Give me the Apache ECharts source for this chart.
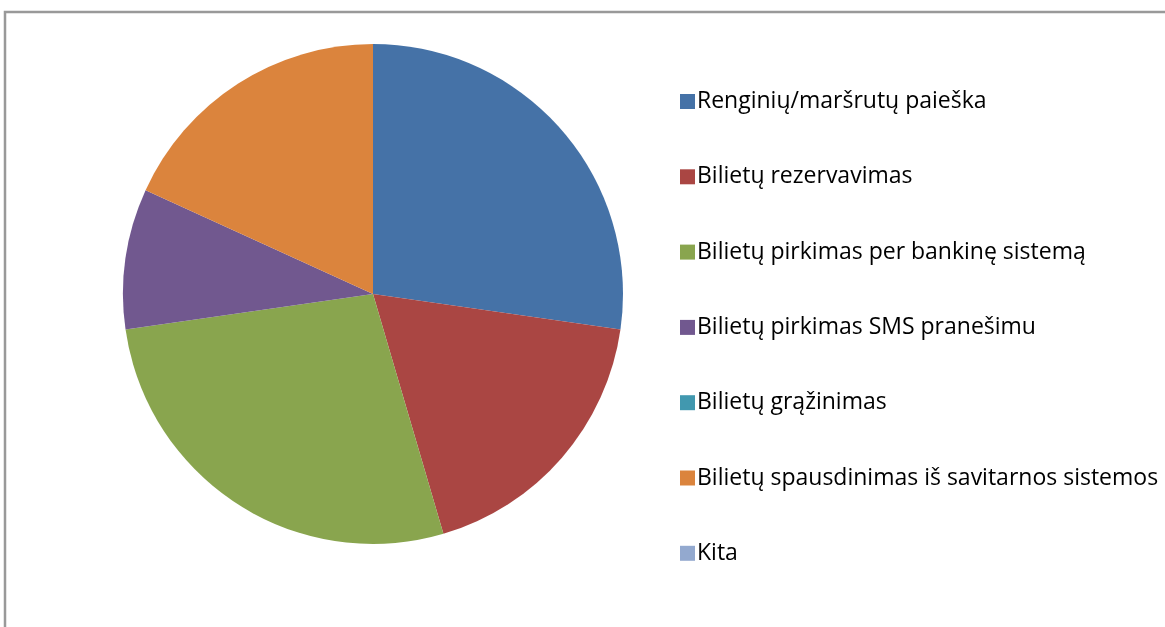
<!DOCTYPE html>
<html>
<head>
<meta charset="utf-8">
<script src="https://cdn.jsdelivr.net/npm/echarts@6/dist/echarts.min.js"></script>
<style>
html,body{margin:0;padding:0;background:#fff;}
#c{width:1165px;height:627px;}
</style>
</head>
<body>
<div id="c"></div>
<script>
const categories = [
  "Renginių/maršrutų paieška",
  "Bilietų rezervavimas",
  "Bilietų pirkimas per bankinę sistemą",
  "Bilietų pirkimas SMS pranešimu",
  "Bilietų grąžinimas",
  "Bilietų spausdinimas iš savitarnos sistemos",
  "Kita"
];
const values = [3, 2, 3, 1, 0, 2, 0];
const colors = ["#4572A7", "#AA4643", "#89A54E", "#71588F", "#4198AF", "#DB843D", "#93A9CF"];

const chart = echarts.init(document.getElementById('c'), null, {renderer: 'canvas'});
chart.setOption({
  backgroundColor: '#fff',
  animation: false,
  color: colors,
  graphic: [{
    type: 'polyline',
    shape: {points: [[5, 640], [5, 12], [1180, 12]]},
    style: {stroke: '#999', lineWidth: 2.5, fill: null},
    silent: true
  }],
  legend: {
    orient: 'vertical',
    left: 675,
    top: 85,
    itemWidth: 15,
    itemHeight: 15,
    itemGap: 52.3,
    itemStyle: {borderWidth: 0},
    icon: 'rect',
    textStyle: {fontFamily: 'Open Sans', fontSize: 23, color: '#000', lineHeight: 22, padding: [0, 0, 0, -3]},
    data: categories
  },
  series: [{
    type: 'pie',
    center: [373, 294],
    radius: 250,
    startAngle: 90,
    clockwise: true,
    minAngle: 0,
    avoidLabelOverlap: false,
    label: {show: false},
    labelLine: {show: false},
    itemStyle: {borderWidth: 0},
    emphasis: {disabled: true},
    data: categories.map((n, i) => ({name: n, value: values[i]}))
  }]
});
</script>
</body>
</html>
